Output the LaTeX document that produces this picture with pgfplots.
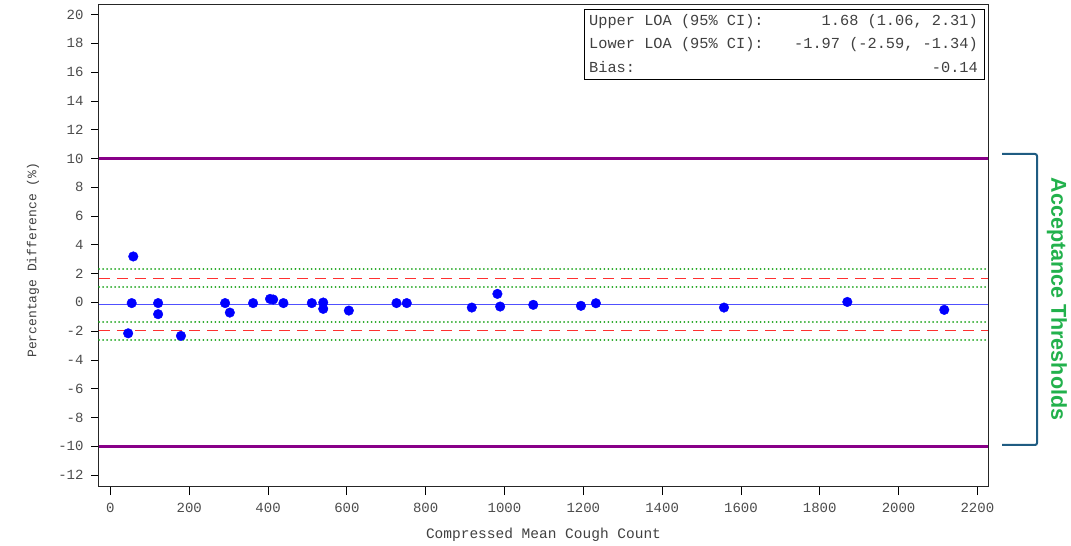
\documentclass[border=0pt]{standalone}
\usepackage{pgfplots}
\pgfplotsset{compat=1.18}
\usepackage{fontspec}
\setmainfont{Liberation Mono}
\newfontfamily\sansb{Liberation Sans}
\definecolor{loapurple}{HTML}{880088}
\definecolor{loared}{HTML}{FF3030}
\definecolor{loagreen}{HTML}{1FA51F}
\definecolor{biasblue}{HTML}{5050FF}
\definecolor{brackblue}{HTML}{1F5C82}
\definecolor{accgreen}{HTML}{22B14C}
\begin{document}
\begin{tikzpicture}[x=1pt,y=1pt]
\path[use as bounding box] (0,0) rectangle (1071,546);
\begin{axis}[
  at={(99pt,59pt)}, anchor=south west, scale only axis,
  width=889pt, height=482.5pt,
  xmin=-29, xmax=2227, ymin=-12.83, ymax=20.7,
  xtick={0,200,...,2200}, ytick={-12,-10,...,20},
  tick align=outside, tick pos=left, major tick length=8pt,
  every tick/.style={black, line width=0.8pt},
  axis line style={black!85, line width=1pt},
  ticklabel style={font=\fontsize{14}{16}\selectfont, text=black!70},
  yticklabel style={xshift=-4pt},
  xticklabel style={yshift=-5pt},
  /pgf/number format/assume math mode=true,
  /pgf/number format/set thousands separator={},
  xlabel={Compressed Mean Cough Count},
  ylabel={Percentage Difference (\%)},
  xlabel style={font=\fontsize{14.5}{16}\selectfont, text=black!75, anchor=center, at={(axis description cs:0.5,-0.0995)}},
  ylabel style={font=\fontsize{13}{16}\selectfont, text=black!75, anchor=center, at={(axis description cs:-0.0742,0.47)}},
  clip=false,
]
\addplot[loapurple, line width=3.2pt] coordinates {(-29,10) (2227,10)};
\addplot[loapurple, line width=3.2pt] coordinates {(-29,-10) (2227,-10)};
\addplot[loagreen, line width=2pt, line cap=round, dash pattern=on 0.01pt off 4pt] coordinates {(-29,2.31) (2227,2.31)};
\addplot[loagreen, line width=2pt, line cap=round, dash pattern=on 0.01pt off 4pt] coordinates {(-29,1.06) (2227,1.06)};
\addplot[loagreen, line width=2pt, line cap=round, dash pattern=on 0.01pt off 4pt] coordinates {(-29,-1.34) (2227,-1.34)};
\addplot[loagreen, line width=2pt, line cap=round, dash pattern=on 0.01pt off 4pt] coordinates {(-29,-2.59) (2227,-2.59)};
\addplot[loared, line width=1.2pt, dash pattern=on 11pt off 7pt] coordinates {(-29,1.68) (2227,1.68)};
\addplot[loared, line width=1.2pt, dash pattern=on 11pt off 7pt] coordinates {(-29,-1.97) (2227,-1.97)};
\addplot[biasblue, line width=1.6pt] coordinates {(-29,-0.14) (2227,-0.14)};
\addplot[only marks, mark=*, mark size=4.8pt, blue, mark options={draw=blue, fill=blue}] coordinates {
(45,-2.15) (58,3.19) (54,-0.05) (121,-0.05) (121,-0.82) (179,-2.33)
(291,-0.05) (303,-0.71) (362,-0.05) (405,0.24) (413,0.2) (439,-0.05)
(511,-0.05) (540,-0.01) (540,-0.45) (605,-0.57) (726,-0.05) (752,-0.05)
(917,-0.36) (982,0.59) (989,-0.29) (1073,-0.17) (1194,-0.24) (1232,-0.06)
(1557,-0.36) (1870,0.03) (2116,-0.52)
};
\end{axis}
% statistics box
\draw[black, line width=1pt] (584,466) rectangle (984,536);
\begin{scope}[every node/.style={font=\fontsize{15.3}{16}\selectfont, text=black!75, inner sep=0}]
\node[anchor=base west] at (589,520) {Upper LOA (95\% CI):};
\node[anchor=base east] at (978,520) {1.68 (1.06, 2.31)};
\node[anchor=base west] at (589,497) {Lower LOA (95\% CI):};
\node[anchor=base east] at (978,497) {-1.97 (-2.59, -1.34)};
\node[anchor=base west] at (589,473) {Bias:};
\node[anchor=base east] at (978,473) {-0.14};
\end{scope}
% bracket
\draw[brackblue, line width=2pt, rounded corners=2pt] (1002,392) -- (1037,392) -- (1037,101) -- (1002,101);
\node[rotate=-90, text=accgreen, font=\sansb\bfseries\fontsize{21.5}{24}\selectfont] at (1057,247) {Acceptance Thresholds};
\end{tikzpicture}
\end{document}
